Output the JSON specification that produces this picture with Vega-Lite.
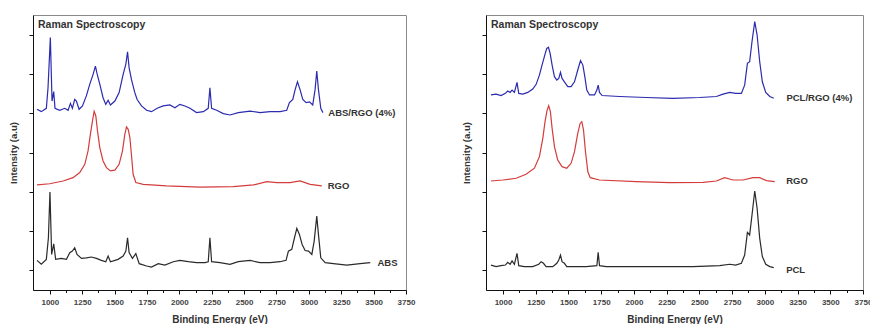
{
  "$schema": "https://vega.github.io/schema/vega-lite/v6.json",
  "padding": {"left": 8, "top": 14, "right": 0, "bottom": 0},
  "spacing": 80,
  "bounds": "flush",
  "config": {
    "font": "Liberation Sans",
    "view": {"stroke": "#8a8a8a", "strokeWidth": 1},
    "axis": {"grid": false, "domainColor": "#111", "tickColor": "#111", "domainWidth": 1, "tickWidth": 1},
    "title": {"fontSize": 10.5, "fontWeight": "bold", "color": "#333", "anchor": "start", "frame": "group", "offset": -15, "baseline": "middle", "dx": 5}
  },
  "datasets": {
    "left": [
      {"series": "ABS/RGO (4%)", "x": 901, "y": 9.2}, {"series": "ABS/RGO (4%)", "x": 934, "y": 9.08}, {"series": "ABS/RGO (4%)", "x": 973, "y": 9.25}, {"series": "ABS/RGO (4%)", "x": 986, "y": 10.3}, {"series": "ABS/RGO (4%)", "x": 1004, "y": 12.85}, {"series": "ABS/RGO (4%)", "x": 1017, "y": 9.62}, {"series": "ABS/RGO (4%)", "x": 1030, "y": 10.1}, {"series": "ABS/RGO (4%)", "x": 1040, "y": 9.25}, {"series": "ABS/RGO (4%)", "x": 1076, "y": 9.15}, {"series": "ABS/RGO (4%)", "x": 1115, "y": 9.25}, {"series": "ABS/RGO (4%)", "x": 1141, "y": 9.15}, {"series": "ABS/RGO (4%)", "x": 1159, "y": 9.5}, {"series": "ABS/RGO (4%)", "x": 1174, "y": 9.25}, {"series": "ABS/RGO (4%)", "x": 1192, "y": 9.7}, {"series": "ABS/RGO (4%)", "x": 1205, "y": 9.62}, {"series": "ABS/RGO (4%)", "x": 1226, "y": 9.2}, {"series": "ABS/RGO (4%)", "x": 1252, "y": 9.37}, {"series": "ABS/RGO (4%)", "x": 1282, "y": 9.88}, {"series": "ABS/RGO (4%)", "x": 1308, "y": 10.47}, {"series": "ABS/RGO (4%)", "x": 1334, "y": 10.98}, {"series": "ABS/RGO (4%)", "x": 1352, "y": 11.4}, {"series": "ABS/RGO (4%)", "x": 1365, "y": 11.0}, {"series": "ABS/RGO (4%)", "x": 1386, "y": 10.47}, {"series": "ABS/RGO (4%)", "x": 1411, "y": 9.79}, {"series": "ABS/RGO (4%)", "x": 1432, "y": 9.45}, {"series": "ABS/RGO (4%)", "x": 1450, "y": 9.66}, {"series": "ABS/RGO (4%)", "x": 1468, "y": 9.42}, {"series": "ABS/RGO (4%)", "x": 1502, "y": 9.62}, {"series": "ABS/RGO (4%)", "x": 1535, "y": 10.05}, {"series": "ABS/RGO (4%)", "x": 1566, "y": 10.98}, {"series": "ABS/RGO (4%)", "x": 1587, "y": 11.5}, {"series": "ABS/RGO (4%)", "x": 1600, "y": 12.13}, {"series": "ABS/RGO (4%)", "x": 1612, "y": 11.32}, {"series": "ABS/RGO (4%)", "x": 1630, "y": 10.72}, {"series": "ABS/RGO (4%)", "x": 1656, "y": 10.05}, {"series": "ABS/RGO (4%)", "x": 1674, "y": 9.7}, {"series": "ABS/RGO (4%)", "x": 1708, "y": 9.37}, {"series": "ABS/RGO (4%)", "x": 1747, "y": 9.15}, {"series": "ABS/RGO (4%)", "x": 1785, "y": 9.08}, {"series": "ABS/RGO (4%)", "x": 1829, "y": 9.25}, {"series": "ABS/RGO (4%)", "x": 1875, "y": 9.37}, {"series": "ABS/RGO (4%)", "x": 1927, "y": 9.42}, {"series": "ABS/RGO (4%)", "x": 1966, "y": 9.28}, {"series": "ABS/RGO (4%)", "x": 2004, "y": 9.45}, {"series": "ABS/RGO (4%)", "x": 2043, "y": 9.37}, {"series": "ABS/RGO (4%)", "x": 2082, "y": 9.25}, {"series": "ABS/RGO (4%)", "x": 2133, "y": 9.03}, {"series": "ABS/RGO (4%)", "x": 2185, "y": 9.08}, {"series": "ABS/RGO (4%)", "x": 2223, "y": 9.25}, {"series": "ABS/RGO (4%)", "x": 2236, "y": 10.3}, {"series": "ABS/RGO (4%)", "x": 2249, "y": 9.25}, {"series": "ABS/RGO (4%)", "x": 2288, "y": 9.15}, {"series": "ABS/RGO (4%)", "x": 2339, "y": 8.98}, {"series": "ABS/RGO (4%)", "x": 2391, "y": 8.91}, {"series": "ABS/RGO (4%)", "x": 2455, "y": 9.03}, {"series": "ABS/RGO (4%)", "x": 2546, "y": 9.11}, {"series": "ABS/RGO (4%)", "x": 2623, "y": 9.03}, {"series": "ABS/RGO (4%)", "x": 2700, "y": 9.08}, {"series": "ABS/RGO (4%)", "x": 2778, "y": 9.08}, {"series": "ABS/RGO (4%)", "x": 2829, "y": 9.15}, {"series": "ABS/RGO (4%)", "x": 2850, "y": 9.54}, {"series": "ABS/RGO (4%)", "x": 2876, "y": 9.7}, {"series": "ABS/RGO (4%)", "x": 2894, "y": 10.2}, {"series": "ABS/RGO (4%)", "x": 2912, "y": 10.6}, {"series": "ABS/RGO (4%)", "x": 2932, "y": 10.2}, {"series": "ABS/RGO (4%)", "x": 2953, "y": 9.7}, {"series": "ABS/RGO (4%)", "x": 2979, "y": 9.54}, {"series": "ABS/RGO (4%)", "x": 3005, "y": 9.58}, {"series": "ABS/RGO (4%)", "x": 3030, "y": 9.42}, {"series": "ABS/RGO (4%)", "x": 3048, "y": 10.2}, {"series": "ABS/RGO (4%)", "x": 3061, "y": 11.15}, {"series": "ABS/RGO (4%)", "x": 3074, "y": 10.2}, {"series": "ABS/RGO (4%)", "x": 3092, "y": 9.25}, {"series": "ABS/RGO (4%)", "x": 3108, "y": 9.03},
      {"series": "RGO", "x": 901, "y": 5.35}, {"series": "RGO", "x": 999, "y": 5.41}, {"series": "RGO", "x": 1102, "y": 5.55}, {"series": "RGO", "x": 1179, "y": 5.72}, {"series": "RGO", "x": 1231, "y": 5.98}, {"series": "RGO", "x": 1270, "y": 6.4}, {"series": "RGO", "x": 1295, "y": 7.08}, {"series": "RGO", "x": 1313, "y": 7.92}, {"series": "RGO", "x": 1329, "y": 8.6}, {"series": "RGO", "x": 1342, "y": 9.1}, {"series": "RGO", "x": 1355, "y": 8.86}, {"series": "RGO", "x": 1368, "y": 8.1}, {"series": "RGO", "x": 1386, "y": 7.24}, {"series": "RGO", "x": 1411, "y": 6.57}, {"series": "RGO", "x": 1437, "y": 6.23}, {"series": "RGO", "x": 1468, "y": 6.06}, {"series": "RGO", "x": 1502, "y": 6.1}, {"series": "RGO", "x": 1535, "y": 6.4}, {"series": "RGO", "x": 1561, "y": 7.08}, {"series": "RGO", "x": 1579, "y": 7.92}, {"series": "RGO", "x": 1592, "y": 8.3}, {"series": "RGO", "x": 1605, "y": 8.18}, {"series": "RGO", "x": 1618, "y": 7.76}, {"series": "RGO", "x": 1630, "y": 6.9}, {"series": "RGO", "x": 1643, "y": 5.89}, {"series": "RGO", "x": 1664, "y": 5.47}, {"series": "RGO", "x": 1721, "y": 5.38}, {"series": "RGO", "x": 1901, "y": 5.3}, {"series": "RGO", "x": 2159, "y": 5.24}, {"series": "RGO", "x": 2417, "y": 5.26}, {"series": "RGO", "x": 2572, "y": 5.35}, {"series": "RGO", "x": 2675, "y": 5.52}, {"series": "RGO", "x": 2752, "y": 5.47}, {"series": "RGO", "x": 2855, "y": 5.47}, {"series": "RGO", "x": 2932, "y": 5.55}, {"series": "RGO", "x": 3010, "y": 5.38}, {"series": "RGO", "x": 3100, "y": 5.3},
      {"series": "ABS", "x": 901, "y": 1.51}, {"series": "ABS", "x": 934, "y": 1.31}, {"series": "ABS", "x": 973, "y": 1.56}, {"series": "ABS", "x": 989, "y": 2.66}, {"series": "ABS", "x": 1001, "y": 4.99}, {"series": "ABS", "x": 1014, "y": 1.81}, {"series": "ABS", "x": 1030, "y": 2.35}, {"series": "ABS", "x": 1045, "y": 1.56}, {"series": "ABS", "x": 1089, "y": 1.61}, {"series": "ABS", "x": 1128, "y": 1.56}, {"series": "ABS", "x": 1154, "y": 1.9}, {"series": "ABS", "x": 1174, "y": 1.98}, {"series": "ABS", "x": 1192, "y": 2.15}, {"series": "ABS", "x": 1210, "y": 1.81}, {"series": "ABS", "x": 1244, "y": 1.61}, {"series": "ABS", "x": 1282, "y": 1.64}, {"series": "ABS", "x": 1321, "y": 1.68}, {"series": "ABS", "x": 1360, "y": 1.61}, {"series": "ABS", "x": 1398, "y": 1.51}, {"series": "ABS", "x": 1432, "y": 1.44}, {"series": "ABS", "x": 1450, "y": 1.73}, {"series": "ABS", "x": 1468, "y": 1.44}, {"series": "ABS", "x": 1527, "y": 1.56}, {"series": "ABS", "x": 1566, "y": 1.73}, {"series": "ABS", "x": 1587, "y": 1.98}, {"series": "ABS", "x": 1600, "y": 2.66}, {"series": "ABS", "x": 1612, "y": 1.9}, {"series": "ABS", "x": 1638, "y": 1.61}, {"series": "ABS", "x": 1664, "y": 1.85}, {"series": "ABS", "x": 1690, "y": 1.34}, {"series": "ABS", "x": 1747, "y": 1.22}, {"series": "ABS", "x": 1785, "y": 1.17}, {"series": "ABS", "x": 1837, "y": 1.34}, {"series": "ABS", "x": 1888, "y": 1.27}, {"series": "ABS", "x": 1953, "y": 1.44}, {"series": "ABS", "x": 2004, "y": 1.51}, {"series": "ABS", "x": 2069, "y": 1.44}, {"series": "ABS", "x": 2133, "y": 1.39}, {"series": "ABS", "x": 2198, "y": 1.39}, {"series": "ABS", "x": 2223, "y": 1.44}, {"series": "ABS", "x": 2236, "y": 2.66}, {"series": "ABS", "x": 2249, "y": 1.44}, {"series": "ABS", "x": 2314, "y": 1.39}, {"series": "ABS", "x": 2391, "y": 1.31}, {"series": "ABS", "x": 2455, "y": 1.44}, {"series": "ABS", "x": 2546, "y": 1.51}, {"series": "ABS", "x": 2623, "y": 1.39}, {"series": "ABS", "x": 2700, "y": 1.39}, {"series": "ABS", "x": 2778, "y": 1.44}, {"series": "ABS", "x": 2824, "y": 1.51}, {"series": "ABS", "x": 2842, "y": 1.98}, {"series": "ABS", "x": 2868, "y": 2.07}, {"series": "ABS", "x": 2889, "y": 2.66}, {"series": "ABS", "x": 2907, "y": 3.14}, {"series": "ABS", "x": 2927, "y": 2.83}, {"series": "ABS", "x": 2948, "y": 2.32}, {"series": "ABS", "x": 2971, "y": 2.01}, {"series": "ABS", "x": 2997, "y": 1.98}, {"series": "ABS", "x": 3023, "y": 1.81}, {"series": "ABS", "x": 3041, "y": 2.49}, {"series": "ABS", "x": 3061, "y": 3.76}, {"series": "ABS", "x": 3074, "y": 2.83}, {"series": "ABS", "x": 3092, "y": 1.64}, {"series": "ABS", "x": 3126, "y": 1.39}, {"series": "ABS", "x": 3190, "y": 1.34}, {"series": "ABS", "x": 3293, "y": 1.27}, {"series": "ABS", "x": 3396, "y": 1.34}, {"series": "ABS", "x": 3474, "y": 1.39}
    ],
    "right": [
      {"series": "PCL/RGO (4%)", "x": 908, "y": 9.93}, {"series": "PCL/RGO (4%)", "x": 947, "y": 9.97}, {"series": "PCL/RGO (4%)", "x": 985, "y": 9.9}, {"series": "PCL/RGO (4%)", "x": 1018, "y": 10.01}, {"series": "PCL/RGO (4%)", "x": 1036, "y": 10.13}, {"series": "PCL/RGO (4%)", "x": 1054, "y": 10.06}, {"series": "PCL/RGO (4%)", "x": 1069, "y": 10.18}, {"series": "PCL/RGO (4%)", "x": 1087, "y": 10.06}, {"series": "PCL/RGO (4%)", "x": 1107, "y": 10.57}, {"series": "PCL/RGO (4%)", "x": 1120, "y": 10.01}, {"series": "PCL/RGO (4%)", "x": 1151, "y": 9.97}, {"series": "PCL/RGO (4%)", "x": 1189, "y": 10.06}, {"series": "PCL/RGO (4%)", "x": 1227, "y": 10.23}, {"series": "PCL/RGO (4%)", "x": 1253, "y": 10.47}, {"series": "PCL/RGO (4%)", "x": 1278, "y": 10.94}, {"series": "PCL/RGO (4%)", "x": 1298, "y": 11.45}, {"series": "PCL/RGO (4%)", "x": 1319, "y": 11.96}, {"series": "PCL/RGO (4%)", "x": 1334, "y": 12.3}, {"series": "PCL/RGO (4%)", "x": 1347, "y": 12.36}, {"series": "PCL/RGO (4%)", "x": 1360, "y": 12.04}, {"series": "PCL/RGO (4%)", "x": 1375, "y": 11.45}, {"series": "PCL/RGO (4%)", "x": 1393, "y": 10.86}, {"series": "PCL/RGO (4%)", "x": 1411, "y": 10.69}, {"series": "PCL/RGO (4%)", "x": 1426, "y": 10.77}, {"series": "PCL/RGO (4%)", "x": 1439, "y": 11.08}, {"series": "PCL/RGO (4%)", "x": 1451, "y": 10.77}, {"series": "PCL/RGO (4%)", "x": 1469, "y": 10.6}, {"series": "PCL/RGO (4%)", "x": 1495, "y": 10.35}, {"series": "PCL/RGO (4%)", "x": 1520, "y": 10.35}, {"series": "PCL/RGO (4%)", "x": 1546, "y": 10.6}, {"series": "PCL/RGO (4%)", "x": 1571, "y": 11.2}, {"series": "PCL/RGO (4%)", "x": 1592, "y": 11.68}, {"series": "PCL/RGO (4%)", "x": 1610, "y": 11.45}, {"series": "PCL/RGO (4%)", "x": 1625, "y": 10.86}, {"series": "PCL/RGO (4%)", "x": 1640, "y": 10.18}, {"series": "PCL/RGO (4%)", "x": 1661, "y": 9.93}, {"series": "PCL/RGO (4%)", "x": 1699, "y": 9.93}, {"series": "PCL/RGO (4%)", "x": 1717, "y": 10.18}, {"series": "PCL/RGO (4%)", "x": 1727, "y": 10.43}, {"series": "PCL/RGO (4%)", "x": 1737, "y": 10.06}, {"series": "PCL/RGO (4%)", "x": 1757, "y": 9.9}, {"series": "PCL/RGO (4%)", "x": 1890, "y": 9.85}, {"series": "PCL/RGO (4%)", "x": 2094, "y": 9.8}, {"series": "PCL/RGO (4%)", "x": 2298, "y": 9.76}, {"series": "PCL/RGO (4%)", "x": 2502, "y": 9.8}, {"series": "PCL/RGO (4%)", "x": 2630, "y": 9.85}, {"series": "PCL/RGO (4%)", "x": 2681, "y": 9.97}, {"series": "PCL/RGO (4%)", "x": 2732, "y": 10.06}, {"series": "PCL/RGO (4%)", "x": 2777, "y": 10.01}, {"series": "PCL/RGO (4%)", "x": 2821, "y": 10.01}, {"series": "PCL/RGO (4%)", "x": 2846, "y": 10.43}, {"series": "PCL/RGO (4%)", "x": 2867, "y": 11.54}, {"series": "PCL/RGO (4%)", "x": 2884, "y": 11.62}, {"series": "PCL/RGO (4%)", "x": 2902, "y": 12.64}, {"series": "PCL/RGO (4%)", "x": 2923, "y": 13.66}, {"series": "PCL/RGO (4%)", "x": 2941, "y": 12.98}, {"series": "PCL/RGO (4%)", "x": 2961, "y": 11.62}, {"series": "PCL/RGO (4%)", "x": 2981, "y": 10.6}, {"series": "PCL/RGO (4%)", "x": 3007, "y": 10.06}, {"series": "PCL/RGO (4%)", "x": 3038, "y": 9.85}, {"series": "PCL/RGO (4%)", "x": 3068, "y": 9.76},
      {"series": "RGO", "x": 908, "y": 5.55}, {"series": "RGO", "x": 998, "y": 5.6}, {"series": "RGO", "x": 1100, "y": 5.69}, {"series": "RGO", "x": 1176, "y": 5.89}, {"series": "RGO", "x": 1240, "y": 6.2}, {"series": "RGO", "x": 1278, "y": 6.79}, {"series": "RGO", "x": 1304, "y": 7.72}, {"series": "RGO", "x": 1321, "y": 8.57}, {"series": "RGO", "x": 1337, "y": 9.16}, {"series": "RGO", "x": 1349, "y": 9.38}, {"series": "RGO", "x": 1362, "y": 9.08}, {"series": "RGO", "x": 1375, "y": 8.23}, {"series": "RGO", "x": 1393, "y": 7.3}, {"series": "RGO", "x": 1418, "y": 6.62}, {"series": "RGO", "x": 1451, "y": 6.28}, {"series": "RGO", "x": 1487, "y": 6.2}, {"series": "RGO", "x": 1520, "y": 6.45}, {"series": "RGO", "x": 1546, "y": 7.04}, {"series": "RGO", "x": 1571, "y": 7.97}, {"series": "RGO", "x": 1589, "y": 8.48}, {"series": "RGO", "x": 1602, "y": 8.57}, {"series": "RGO", "x": 1615, "y": 8.14}, {"series": "RGO", "x": 1630, "y": 7.04}, {"series": "RGO", "x": 1648, "y": 6.02}, {"series": "RGO", "x": 1666, "y": 5.72}, {"series": "RGO", "x": 1737, "y": 5.6}, {"series": "RGO", "x": 2018, "y": 5.52}, {"series": "RGO", "x": 2273, "y": 5.47}, {"series": "RGO", "x": 2528, "y": 5.48}, {"series": "RGO", "x": 2630, "y": 5.55}, {"series": "RGO", "x": 2693, "y": 5.72}, {"series": "RGO", "x": 2757, "y": 5.6}, {"series": "RGO", "x": 2834, "y": 5.6}, {"series": "RGO", "x": 2910, "y": 5.72}, {"series": "RGO", "x": 2961, "y": 5.72}, {"series": "RGO", "x": 3012, "y": 5.57}, {"series": "RGO", "x": 3076, "y": 5.52},
      {"series": "PCL", "x": 908, "y": 1.27}, {"series": "PCL", "x": 947, "y": 1.19}, {"series": "PCL", "x": 985, "y": 1.24}, {"series": "PCL", "x": 1018, "y": 1.27}, {"series": "PCL", "x": 1036, "y": 1.41}, {"series": "PCL", "x": 1054, "y": 1.31}, {"series": "PCL", "x": 1069, "y": 1.48}, {"series": "PCL", "x": 1087, "y": 1.31}, {"series": "PCL", "x": 1107, "y": 1.87}, {"series": "PCL", "x": 1120, "y": 1.24}, {"series": "PCL", "x": 1163, "y": 1.19}, {"series": "PCL", "x": 1227, "y": 1.19}, {"series": "PCL", "x": 1273, "y": 1.31}, {"series": "PCL", "x": 1291, "y": 1.44}, {"series": "PCL", "x": 1309, "y": 1.36}, {"series": "PCL", "x": 1329, "y": 1.19}, {"series": "PCL", "x": 1380, "y": 1.19}, {"series": "PCL", "x": 1411, "y": 1.36}, {"series": "PCL", "x": 1426, "y": 1.53}, {"series": "PCL", "x": 1439, "y": 1.78}, {"series": "PCL", "x": 1451, "y": 1.44}, {"series": "PCL", "x": 1469, "y": 1.36}, {"series": "PCL", "x": 1487, "y": 1.19}, {"series": "PCL", "x": 1635, "y": 1.19}, {"series": "PCL", "x": 1717, "y": 1.24}, {"series": "PCL", "x": 1727, "y": 1.92}, {"series": "PCL", "x": 1737, "y": 1.24}, {"series": "PCL", "x": 1788, "y": 1.19}, {"series": "PCL", "x": 2145, "y": 1.19}, {"series": "PCL", "x": 2451, "y": 1.19}, {"series": "PCL", "x": 2655, "y": 1.24}, {"series": "PCL", "x": 2732, "y": 1.31}, {"series": "PCL", "x": 2777, "y": 1.27}, {"series": "PCL", "x": 2821, "y": 1.36}, {"series": "PCL", "x": 2846, "y": 1.78}, {"series": "PCL", "x": 2867, "y": 2.93}, {"series": "PCL", "x": 2884, "y": 2.8}, {"series": "PCL", "x": 2902, "y": 3.82}, {"series": "PCL", "x": 2923, "y": 5.04}, {"series": "PCL", "x": 2941, "y": 4.16}, {"series": "PCL", "x": 2961, "y": 2.63}, {"series": "PCL", "x": 2981, "y": 1.7}, {"series": "PCL", "x": 3007, "y": 1.31}, {"series": "PCL", "x": 3038, "y": 1.19}, {"series": "PCL", "x": 3068, "y": 1.14}
    ],
    "leftLabels": [
      {"label": "ABS/RGO (4%)", "x": 3150, "y": 9.0},
      {"label": "RGO", "x": 3145, "y": 5.3},
      {"label": "ABS", "x": 3530, "y": 1.37}
    ],
    "rightLabels": [
      {"label": "PCL/RGO (4%)", "x": 3165, "y": 9.78},
      {"label": "RGO", "x": 3163, "y": 5.56},
      {"label": "PCL", "x": 3163, "y": 1.03}
    ]
  },
  "hconcat": [
    {
      "width": 373,
      "height": 275,
      "title": {"text": "Raman Spectroscopy"},
      "resolve": {"axis": {"x": "independent"}},
      "layer": [
        {
          "data": {"name": "left"},
          "mark": {"type": "line", "strokeWidth": 1.2},
          "encoding": {
            "x": {"field": "x", "type": "quantitative", "scale": {"domain": [870, 3750], "nice": false, "zero": false},
              "axis": {"orient": "bottom", "values": [1000, 1250, 1500, 1750, 2000, 2250, 2500, 2750, 3000, 3250, 3500, 3750], "format": "d", "tickSize": 4, "labelFontSize": 8, "labelFontWeight": "bold", "labelColor": "#444", "labelPadding": 4, "labelFlush": false, "labelOverlap": false, "title": "Binding Energy (eV)", "titleFontSize": 10, "titleFontWeight": "bold", "titleColor": "#333", "titlePadding": 8}},
            "y": {"field": "y", "type": "quantitative", "scale": {"domain": [0, 14], "nice": false},
              "axis": {"values": [1, 2, 3, 4, 5, 6, 7, 8, 9, 10, 11, 12, 13], "tickSize": 4, "labels": false, "title": "Intensity (a.u)", "titleFontSize": 9.5, "titleFontWeight": "bold", "titleColor": "#333", "titlePadding": 10}},
            "color": {"field": "series", "type": "nominal", "scale": {"domain": ["ABS/RGO (4%)", "PCL/RGO (4%)", "RGO", "ABS", "PCL"], "range": ["#2b2bb0", "#2b2bb0", "#d43c3c", "#2a2a2a", "#2a2a2a"]}, "legend": null},
            "detail": {"field": "series"}
          }
        },
        {
          "data": {"name": "leftLabels"},
          "mark": {"type": "text", "align": "left", "baseline": "middle", "fontSize": 9.5, "fontWeight": "bold", "color": "#333"},
          "encoding": {
            "x": {"field": "x", "type": "quantitative", "scale": {"domain": [870, 3750], "nice": false, "zero": false},
              "axis": {"orient": "bottom", "values": [1125, 1375, 1625, 1875, 2125, 2375, 2625, 2875, 3125, 3375, 3625], "tickSize": 2.5, "labels": false, "domain": false, "title": null}},
            "y": {"field": "y", "type": "quantitative"},
            "text": {"field": "label"}
          }
        }
      ]
    },
    {
      "width": 377,
      "height": 275,
      "title": {"text": "Raman Spectroscopy"},
      "resolve": {"axis": {"x": "independent"}},
      "layer": [
        {
          "data": {"name": "right"},
          "mark": {"type": "line", "strokeWidth": 1.2},
          "encoding": {
            "x": {"field": "x", "type": "quantitative", "scale": {"domain": [870, 3750], "nice": false, "zero": false},
              "axis": {"orient": "bottom", "values": [1000, 1250, 1500, 1750, 2000, 2250, 2500, 2750, 3000, 3250, 3500, 3750], "format": "d", "tickSize": 4, "labelFontSize": 8, "labelFontWeight": "bold", "labelColor": "#444", "labelPadding": 4, "labelFlush": false, "labelOverlap": false, "title": "Binding Energy (eV)", "titleFontSize": 10, "titleFontWeight": "bold", "titleColor": "#333", "titlePadding": 8}},
            "y": {"field": "y", "type": "quantitative", "scale": {"domain": [0, 14], "nice": false},
              "axis": {"values": [1, 2, 3, 4, 5, 6, 7, 8, 9, 10, 11, 12, 13], "tickSize": 4, "labels": false, "title": "Intensity (a.u)", "titleFontSize": 9.5, "titleFontWeight": "bold", "titleColor": "#333", "titlePadding": 10}},
            "color": {"field": "series", "type": "nominal", "scale": {"domain": ["ABS/RGO (4%)", "PCL/RGO (4%)", "RGO", "ABS", "PCL"], "range": ["#2b2bb0", "#2b2bb0", "#d43c3c", "#2a2a2a", "#2a2a2a"]}, "legend": null},
            "detail": {"field": "series"}
          }
        },
        {
          "data": {"name": "rightLabels"},
          "mark": {"type": "text", "align": "left", "baseline": "middle", "fontSize": 9.5, "fontWeight": "bold", "color": "#333"},
          "encoding": {
            "x": {"field": "x", "type": "quantitative", "scale": {"domain": [870, 3750], "nice": false, "zero": false},
              "axis": {"orient": "bottom", "values": [1125, 1375, 1625, 1875, 2125, 2375, 2625, 2875, 3125, 3375, 3625], "tickSize": 2.5, "labels": false, "domain": false, "title": null}},
            "y": {"field": "y", "type": "quantitative"},
            "text": {"field": "label"}
          }
        }
      ]
    }
  ]
}
